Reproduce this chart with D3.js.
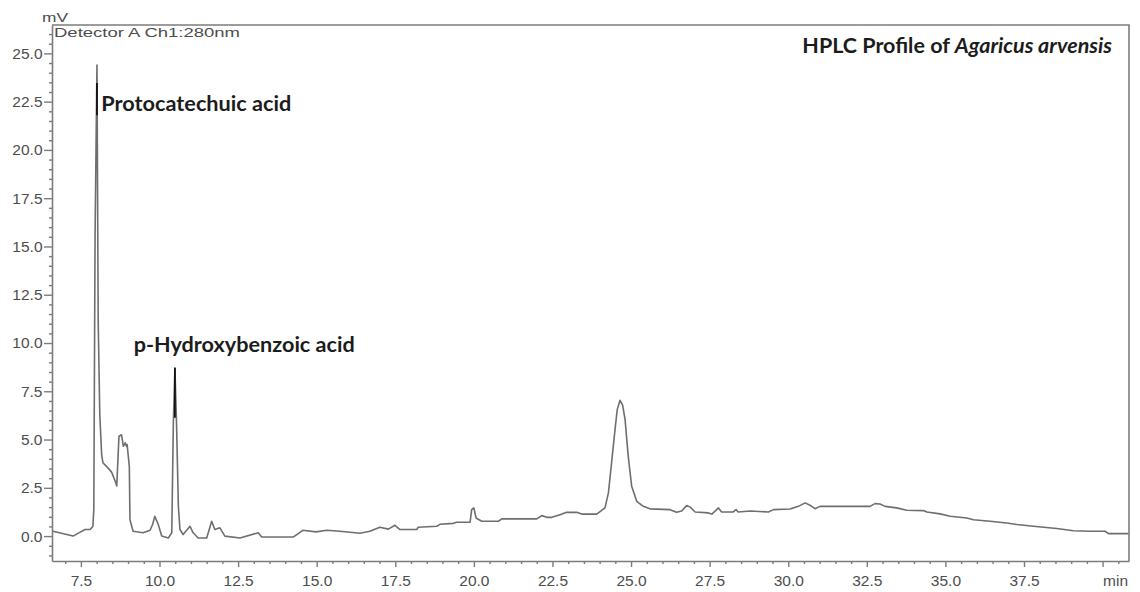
<!DOCTYPE html>
<html>
<head>
<meta charset="utf-8">
<script src="https://cdn.jsdelivr.net/npm/d3@7"></script>
<style>
  body { margin: 0; background: #fff; }
  svg { display: block; }
</style>
</head>
<body>
<div id="chart"></div>
<script>
// retention time (min) and detector signal (mV)
var times = [6.61, 7.05, 7.25, 7.45, 7.63, 7.79, 7.88, 7.91, 7.95, 8.01, 8.05, 8.10, 8.16, 8.20, 8.32, 8.48, 8.60, 8.64,
  8.71, 8.79, 8.85, 8.91, 8.95, 8.97, 9.04, 9.06, 9.16, 9.48, 9.70, 9.78, 9.85, 9.96, 10.07, 10.28, 10.39, 10.44,
  10.49, 10.54, 10.60, 10.65, 10.75, 10.97, 11.07, 11.23, 11.50, 11.66, 11.76, 11.92, 12.08, 12.56, 13.14, 13.25,
  14.25, 14.56, 14.98, 15.32, 15.74, 16.38, 16.69, 17.01, 17.28, 17.49, 17.65, 18.18, 18.23, 18.82, 18.92, 19.35,
  19.45, 19.88, 19.93, 20.00, 20.07, 20.25, 20.78, 20.89, 22.00, 22.16, 22.32, 22.48, 22.74, 22.95, 23.27, 23.43,
  23.91, 24.17, 24.28, 24.38, 24.49, 24.56, 24.65, 24.73, 24.81, 24.91, 25.02, 25.18, 25.39, 25.60, 26.24, 26.45,
  26.61, 26.77, 26.88, 27.04, 27.46, 27.57, 27.78, 27.88, 28.25, 28.34, 28.41, 28.79, 29.37, 29.53, 30.06, 30.32,
  30.54, 30.69, 30.85, 31.01, 32.60, 32.76, 32.92, 33.08, 33.45, 33.77, 34.30, 34.41, 34.83, 35.15, 35.68, 35.89,
  36.42, 36.95, 37.27, 37.80, 38.54, 39.07, 39.60, 40.08, 40.19, 40.82];
var signal = [0.25, 0.08, 0.00, 0.18, 0.34, 0.34, 0.50, 1.37, 15.6, 24.4, 11.1, 6.3, 4.2, 3.8, 3.6, 3.3, 2.8, 2.6,
  5.17, 5.25, 4.65, 4.83, 4.65, 4.74, 3.6, 0.85, 0.25, 0.17, 0.30, 0.60, 1.02, 0.60, 0.00, -0.10, 0.17, 5.86,
  8.7, 5.94, 1.54, 0.34, 0.08, 0.51, 0.17, -0.10, -0.10, 0.77, 0.34, 0.43, 0.00, -0.10, 0.17, -0.05,
  -0.05, 0.30, 0.22, 0.30, 0.25, 0.15, 0.25, 0.46, 0.36, 0.56, 0.34, 0.34, 0.46, 0.51, 0.61, 0.66,
  0.72, 0.72, 1.37, 1.46, 0.94, 0.77, 0.77, 0.89, 0.89, 1.06, 0.97, 0.97, 1.11, 1.23, 1.23, 1.14,
  1.14, 1.46, 2.24, 3.79, 5.51, 6.55, 7.03, 6.80, 6.03, 4.13, 2.58, 1.80, 1.54, 1.41, 1.37, 1.23,
  1.30, 1.58, 1.50, 1.25, 1.20, 1.14, 1.46, 1.25, 1.25, 1.37, 1.25, 1.30, 1.25, 1.37, 1.40, 1.54,
  1.72, 1.60, 1.42, 1.54, 1.54, 1.68, 1.66, 1.54, 1.46, 1.34, 1.32, 1.25, 1.15, 1.03, 0.94, 0.85,
  0.77, 0.68, 0.60, 0.51, 0.39, 0.28, 0.25, 0.25, 0.13, 0.13];

// darker apex strokes on the two identified peaks
var peakTimes = [8.01, 10.49];
var peakFrom = [21.8, 6.13];
var peakTo = [23.47, 8.72];

var peakNames = ["Protocatechuic acid", "p-Hydroxybenzoic acid"];
var peakLabelTime = [8.15, 9.18];
var peakLabelValue = [22.0, 9.55];
var peakLabelWidth = [190, 221];

var xTicks = [7.5, 10.0, 12.5, 15.0, 17.5, 20.0, 22.5, 25.0, 27.5, 30.0, 32.5, 35.0, 37.5, 40.0];
var xTickLabels = ["7.5", "10.0", "12.5", "15.0", "17.5", "20.0", "22.5", "25.0", "27.5", "30.0", "32.5", "35.0", "37.5", "min"];
var yTicks = [0.0, 2.5, 5.0, 7.5, 10.0, 12.5, 15.0, 17.5, 20.0, 22.5, 25.0];

var width = 1140, height = 592;

var svg = d3.select("#chart").append("svg")
    .attr("width", width)
    .attr("height", height);

var x = d3.scaleLinear().domain([6.58, 40.84]).range([52, 1129]);
var y = d3.scaleLinear().domain([-1.29, 26.47]).range([561, 25]);

var axisColor = "#7c7c7c",
    textColor = "#4d4d4d";

// minor ticks first, major on top
var xMinor = d3.range(14, 82).map(function(d) { return d / 2; }).filter(function(d) { return xTicks.indexOf(d) === -1 && d <= 40.5; });
var yMinor = d3.range(-2, 53).map(function(d) { return d / 2; }).filter(function(d) { return yTicks.indexOf(d) === -1; });

svg.append("g")
    .attr("transform", "translate(0," + y.range()[0] + ")")
    .call(d3.axisBottom(x).tickValues(xMinor).tickSize(3).tickSizeOuter(0).tickFormat(""))
    .call(function(g) { g.select(".domain").remove(); });

svg.append("g")
    .attr("transform", "translate(" + x.range()[0] + ",0)")
    .call(d3.axisLeft(y).tickValues(yMinor).tickSize(3).tickSizeOuter(0).tickFormat(""))
    .call(function(g) { g.select(".domain").remove(); });

var xAxis = svg.append("g")
    .attr("class", "x axis")
    .attr("transform", "translate(0," + y.range()[0] + ")")
    .call(d3.axisBottom(x).tickValues(xTicks).tickSize(6).tickSizeOuter(0).tickPadding(8)
      .tickFormat(function(d, i) { return xTickLabels[i]; }));

xAxis.selectAll("text").filter(function(d, i) { return xTickLabels[i] === "min"; })
    .attr("text-anchor", "start")
    .attr("x", 0);

var yAxis = svg.append("g")
    .attr("class", "y axis")
    .attr("transform", "translate(" + x.range()[0] + ",0)")
    .call(d3.axisLeft(y).tickValues(yTicks).tickSize(8).tickSizeOuter(0).tickPadding(1.5)
      .tickFormat(d3.format(".1f")));

svg.selectAll(".tick line").attr("stroke", axisColor).attr("stroke-width", 1.4);
svg.selectAll(".domain").attr("stroke", axisColor).attr("stroke-width", 1.6);
svg.selectAll(".axis text")
    .attr("fill", textColor)
    .style("font-family", "'Liberation Sans', Arial, sans-serif")
    .style("font-size", "15.5px");

// frame: top and right sides
svg.append("path")
    .attr("d", "M" + x.range()[0] + "," + y.range()[1] + "H" + x.range()[1] + "V" + y.range()[0])
    .attr("fill", "none")
    .attr("stroke", axisColor)
    .attr("stroke-width", 1.6);

var pts = times.map(function(t, i) { return [t, signal[i]]; });

var line = d3.line()
    .x(function(d) { return x(d[0]); })
    .y(function(d) { return y(d[1]); });

svg.append("path")
    .datum(pts)
    .attr("fill", "none")
    .attr("stroke", "#6e6e6e")
    .attr("stroke-width", 1.6)
    .attr("stroke-linejoin", "round")
    .attr("d", line);

svg.selectAll(".apex")
    .data(peakTimes)
    .enter().append("line")
      .attr("class", "apex")
      .attr("x1", function(d) { return x(d); })
      .attr("x2", function(d) { return x(d); })
      .attr("y1", function(d, i) { return y(peakFrom[i]); })
      .attr("y2", function(d, i) { return y(peakTo[i]); })
      .attr("stroke", "#111")
      .attr("stroke-width", 1.8);

svg.selectAll(".peakLabel")
    .data(peakNames)
    .enter().append("text")
      .attr("class", "peakLabel")
      .attr("x", function(d, i) { return x(peakLabelTime[i]); })
      .attr("y", function(d, i) { return y(peakLabelValue[i]); })
      .attr("fill", "#1c1c1c")
      .attr("textLength", function(d, i) { return peakLabelWidth[i]; })
      .attr("lengthAdjust", "spacingAndGlyphs")
      .style("font-family", "Lato, 'Open Sans', sans-serif")
      .style("font-weight", "700")
      .style("font-size", "21px")
      .text(function(d) { return d; });

// unit and detector captions
svg.append("text")
    .attr("x", 42)
    .attr("y", 22)
    .attr("fill", textColor)
    .style("font-family", "'Liberation Sans', Arial, sans-serif")
    .style("font-size", "13px")
    .attr("textLength", 26)
    .attr("lengthAdjust", "spacingAndGlyphs")
    .text("mV");

svg.append("text")
    .attr("x", 54)
    .attr("y", 37)
    .attr("fill", textColor)
    .style("font-family", "'Liberation Sans', Arial, sans-serif")
    .style("font-size", "13.5px")
    .attr("textLength", 186)
    .attr("lengthAdjust", "spacingAndGlyphs")
    .text("Detector A Ch1:280nm");

var title = svg.append("text")
    .attr("x", 1112)
    .attr("y", 53)
    .attr("text-anchor", "end")
    .attr("fill", "#1c1c1c")
    .style("font-family", "Lato, 'Open Sans', sans-serif")
    .style("font-weight", "700")
    .style("font-size", "21.5px");
title.append("tspan").text("HPLC Profile of ");
title.append("tspan").style("font-style", "italic").text("Agaricus arvensis");
</script>
</body>
</html>
